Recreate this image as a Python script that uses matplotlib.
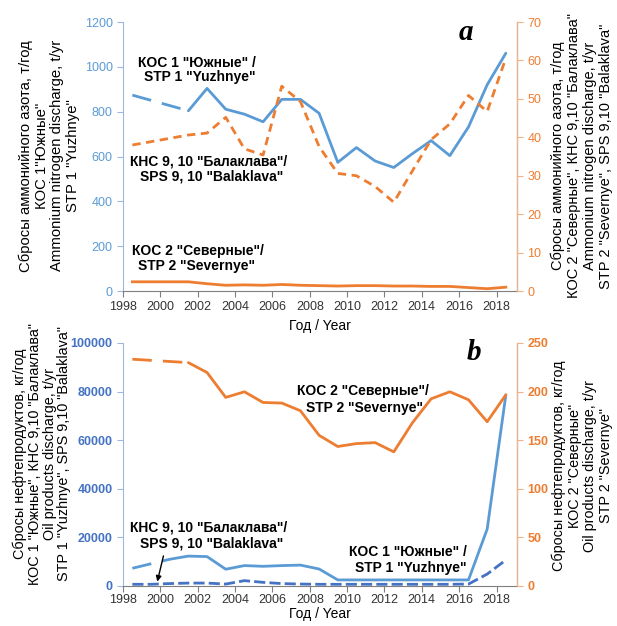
import matplotlib
matplotlib.use("Agg")
import matplotlib.pyplot as plt
import numpy as np

plt.rcParams['font.family'] = ['Liberation Sans', 'DejaVu Sans']

# --- DATI ---
anni = np.arange(1998, 2019)
nan = np.nan

# a) azoto ammonico
azoto_kos1 = [874, nan, nan, 804, 904, 811, 789, 755, 855, 855, 793,
              574, 640, 580, 551, 613, 671, 604, 732, 920, 1061]
azoto_kns = [38.0, nan, nan, 40.6, 41.1, 45.2, 37.0, 35.4, 53.3, 49.3, 37.6,
             30.6, 30.0, 27.2, 23.1, 31.3, 39.4, 43.5, 50.9, 46.7, 60.6]
azoto_kos2 = [2.4, 2.4, 2.4, 2.4, 1.9, 1.5, 1.6, 1.5, 1.7, 1.5, 1.4,
              1.3, 1.4, 1.4, 1.3, 1.3, 1.2, 1.2, 0.9, 0.6, 1.0]

# b) prodotti petroliferi
petrolio_kos1 = [7300, nan, 11000, 12300, 12100, 6900, 8400, 8100, 8400, 8600, 7000,
                 2500, 2500, 2500, 2500, 2500, 2500, 2500, 2500, 23400, 78600]
petrolio_kns = [700, 700, 1000, 1200, 1200, 800, 2200, 1500, 1000, 800, 700,
                700, 700, 700, 700, 700, 700, 700, 800, 4900, 10700]
petrolio_kos2 = [233.3, nan, nan, 229.8, 219.6, 194.0, 199.8, 188.8, 188.2, 180.3, 155.0,
                 143.5, 146.5, 147.5, 138.0, 168.0, 192.6, 199.8, 191.6, 169.0, 196.7]

BLU = '#5B9BD5'
BLU_SCURO = '#4472C4'
ARANCIO = '#ED7D31'
x = anni + 0.5


def linea_con_buchi(ax, x, y, colore, lw, trattino):
    # linea continua dove ci sono dati consecutivi, tratteggiata sui buchi
    y = np.asarray(y, float)
    ax.plot(x, y, color=colore, lw=lw, solid_capstyle='round')
    idx = np.where(~np.isnan(y))[0]
    for i, j in zip(idx[:-1], idx[1:]):
        if j - i > 1:
            ax.plot(x[[i, j]], y[[i, j]], color=colore, lw=lw, dashes=trattino)


def stile_assi(ax, ax2, pad, tick_pad):
    ax.set_xlim(1998, 2019.1)
    ax.set_xticks(range(1998, 2019, 2))
    ax.spines['top'].set_visible(False)
    ax2.spines['top'].set_visible(False)
    ax.spines['left'].set_color('#9DB7DF')
    ax.spines['bottom'].set_color('#7F7F7F')
    ax2.spines['right'].set_color('#F4B183')
    ax2.spines['left'].set_visible(False)
    ax2.spines['bottom'].set_visible(False)
    ax.tick_params(axis='x', colors='#7F7F7F', labelcolor='#333333', labelsize=9,
                   length=4, pad=tick_pad)
    ax.tick_params(axis='y', colors='#9DB7DF', labelsize=9, length=4)
    ax2.tick_params(axis='y', colors='#F4B183', labelcolor=ARANCIO, labelsize=9, length=4)
    ax.set_xlabel("Год / Year", fontsize=10, labelpad=pad)


fig = plt.figure(figsize=(6.17, 6.26), dpi=100)

# --- GRAFICO a ---
ax = fig.add_axes([0.1994, 0.5351, 0.6386, 0.4297])
ax2 = ax.twinx()
linea_con_buchi(ax, x, azoto_kos1, BLU, 2.0, (7, 4))
k = ~np.isnan(np.array(azoto_kns, float))
ax2.plot(x[k], np.array(azoto_kns, float)[k], color=ARANCIO, lw=2.0, dashes=(3, 2))
ax2.plot(x, azoto_kos2, color=ARANCIO, lw=2.0)
ax.set_ylim(0, 1200)
ax.set_yticks(range(0, 1201, 200))
ax2.set_ylim(0, 70)
ax2.set_yticks(range(0, 71, 10))
stile_assi(ax, ax2, 4, 3.5)
for t in ax.get_yticklabels():
    t.set_color(BLU)

ax.text(1998.8, 1000, 'КОС 1 "Южные" /', fontsize=10, fontweight='bold')
ax.text(1999.1, 935, 'STP 1 "Yuzhnye"', fontsize=10, fontweight='bold')
ax.text(1998.35, 560, 'КНС 9, 10 "Балаклава"/', fontsize=10, fontweight='bold')
ax.text(1998.9, 495, 'SPS 9, 10 "Balaklava"', fontsize=10, fontweight='bold')
ax.text(1998.5, 160, 'КОС 2 "Северные"/', fontsize=10, fontweight='bold')
ax.text(1998.8, 95, 'STP 2 "Severnye"', fontsize=10, fontweight='bold')
ax.text(0.87, 0.96, 'a', transform=ax.transAxes, fontsize=21, fontweight='bold',
        fontstyle='italic', family='Liberation Serif', ha='center', va='center')

fig.text(0.080, 0.751, 'Сбросы аммонийного азота, т/год\nКОС 1"Южные"\n'
         'Ammonium nitrogen discharge, t/yr\nSTP 1 "Yuzhnye"',
         rotation=90, ha='center', va='center', fontsize=10.7, linespacing=1.15,
         multialignment='center')
fig.text(0.943, 0.751, 'Сбросы аммонийного азота, т/год\nКОС 2 "Северные", КНС 9,10 "Балаклава"\n'
         'Ammonium nitrogen discharge, t/yr\nSTP 2 "Severnye", SPS 9,10 "Balaklava"',
         rotation=90, ha='center', va='center', fontsize=10.5, linespacing=1.2,
         multialignment='center')

# --- GRAFICO b ---
bx = fig.add_axes([0.1994, 0.0639, 0.6386, 0.3882])
bx2 = bx.twinx()
linea_con_buchi(bx, x, petrolio_kos1, BLU, 2.0, (7, 4))
bx.plot(x, petrolio_kns, color=BLU_SCURO, lw=2.0, dashes=(4, 1.5))
linea_con_buchi(bx2, x, petrolio_kos2, ARANCIO, 2.0, (7, 4))
bx.set_ylim(0, 100000)
bx.set_yticks(range(0, 100001, 20000))
bx2.set_ylim(0, 250)
bx2.set_yticks(range(0, 251, 50))
stile_assi(bx, bx2, 0.5, 2)
for t in bx.get_yticklabels():
    t.set_color(BLU_SCURO)
    t.set_fontweight('bold')
for t in bx2.get_yticklabels():
    t.set_fontweight('bold')

bx.text(2007.3, 78500, 'КОС 2 "Северные"/', fontsize=10, fontweight='bold')
bx.text(2007.8, 71700, 'STP 2 "Severnye"', fontsize=10, fontweight='bold')
bx.text(1998.4, 22500, 'КНС 9, 10 "Балаклава"/', fontsize=10, fontweight='bold')
bx.text(1998.9, 16000, 'SPS 9, 10 "Balaklava"', fontsize=10, fontweight='bold')
bx.annotate('', xy=(1999.8, 700), xytext=(2000.2, 13500),
            arrowprops=dict(arrowstyle='-|>', color='black', lw=1, mutation_scale=8))
bx.text(2010.1, 12500, 'КОС 1 "Южные" /', fontsize=10, fontweight='bold')
bx.text(2010.4, 5800, 'STP 1 "Yuzhnye"', fontsize=10, fontweight='bold')
bx.text(0.89, 0.96, 'b', transform=bx.transAxes, fontsize=21, fontweight='bold',
        fontstyle='italic', family='Liberation Serif', ha='center', va='center')

fig.text(0.068, 0.275, 'Сбросы нефтепродуктов, кг/год\nКОС 1 "Южные", КНС 9,10 "Балаклава"\n'
         'Oil products discharge, t/yr\nSTP 1 "Yuzhnye", SPS 9,10 "Balaklava"',
         rotation=90, ha='center', va='center', fontsize=10.4, linespacing=1.08,
         multialignment='center')
fig.text(0.944, 0.256, 'Сбросы нефтепродуктов, кг/год\nКОС 2 "Северные"\n'
         'Oil products discharge, t/yr\nSTP 2 "Severnye"',
         rotation=90, ha='center', va='center', fontsize=10.4, linespacing=1.15,
         multialignment='center')

fig.savefig('out.png', dpi=100)
